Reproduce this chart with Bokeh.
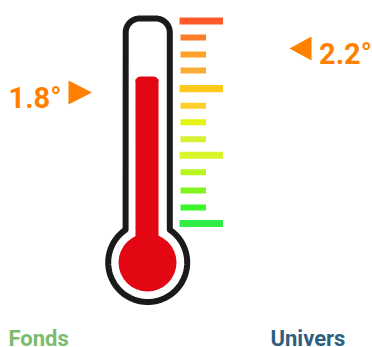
import numpy as np
from bokeh.plotting import figure
from bokeh.models import Range1d
from bokeh.core.properties import value
from bokeh.embed import file_html
from bokeh.resources import INLINE

# Scale ticks, in degrees
tick_degrees = [2.45, 2.30, 2.145, 2.00, 1.835, 1.68, 1.53, 1.375, 1.23, 1.075, 0.91, 0.755, 0.61]
tick_long = [1, 0, 0, 0, 1, 0, 0, 0, 1, 0, 0, 0, 1]
tick_colors = ["#FF5A28", "#FF7C2C", "#FFA028", "#F9AC35", "#FFC81E", "#FFCE28", "#E4F414",
               "#D6F032", "#D9F52C", "#B6F520", "#80F41E", "#3CF52A", "#30EE48"]
fill_level = 1.945
labels = ["1.8°", "2.2°"]
label_values = [1.8, 2.2]
names = ["Fonds", "Univers"]
name_colors = ["#7CBB6E", "#2F5F80"]
ORANGE = "#FF8000"
FONT = value("Roboto")

p = figure(width=372, height=347, output_backend="svg", toolbar_location=None,
           x_range=Range1d(0, 372), y_range=Range1d(347, 0),
           min_border=0, outline_line_color=None, x_axis_location=None, y_axis_location=None)
p.grid.visible = False
p.background_fill_color = "white"
p.border_fill_color = "white"
p.extra_y_ranges = {"deg": Range1d(-0.518, 2.636)}

# Scale bars
lefts = [179 if l else 180 for l in tick_long]
rights = [222.5 if l else 205.5 for l in tick_long]
heights = [7 / 110 if l else 6 / 110 for l in tick_long]
tops = [t + h / 2 for t, h in zip(tick_degrees, heights)]
bottoms = [t - h / 2 for t, h in zip(tick_degrees, heights)]
p.quad(left=lefts, right=rights, top=tops, bottom=bottoms, fill_color=tick_colors,
       line_color=None, y_range_name="deg")

# Thermometer outline (drawn shape)
cx, left_x, right_x = 147.2, 125.2, 169.3
top_y, r, by, br = 18, 14, 262, 39.5
a0 = np.arcsin((right_x - cx) / br)
t_bulb = np.linspace(a0, 2 * np.pi - a0, 80)
bx = cx + br * np.sin(t_bulb)
byy = by - br * np.cos(t_bulb)
t_l = np.linspace(np.pi, 1.5 * np.pi, 14)
t_r = np.linspace(1.5 * np.pi, 2 * np.pi, 14)
ox = np.concatenate([[right_x], bx, [left_x], left_x + r + r * np.cos(t_l), right_x - r + r * np.cos(t_r), [right_x]])
oy = np.concatenate([[top_y + r], byy, [top_y + r], top_y + r + r * np.sin(t_l), top_y + r + r * np.sin(t_r), [top_y + r]])
p.patch(ox, oy, fill_color="white", line_color="#1A1A1A", line_width=6, line_join="round")

# Mercury
RED = "#E30613"
p.circle(x=[147], y=[262], radius=29, fill_color=RED, line_color=None)
p.quad(left=[135], right=[158], top=[fill_level - 3 / 110], bottom=[0.4], fill_color=RED,
       line_color=None, y_range_name="deg")
th = np.linspace(0, np.pi / 2, 8)
cap_x = np.concatenate([135 + 5 - 5 * np.cos(th), 158 - 5 + 5 * np.sin(th)])
cap_y = np.concatenate([fill_level - 5 / 110 + 5 / 110 * np.sin(th), fill_level - 5 / 110 + 5 / 110 * np.cos(th)])
p.patch(cap_x, cap_y, fill_color=RED, line_color=None, y_range_name="deg")

# Markers
h = 12 / 110
v = label_values[0]
p.patch([68, 91.5, 68], [v + h, v, v - h], fill_color=ORANGE, line_color=None, y_range_name="deg")
v = label_values[1]
p.patch([311, 289, 311], [v + h, v, v - h], fill_color=ORANGE, line_color=None, y_range_name="deg")

p.text(x=[8], y=[97], text=[labels[0]], text_font=FONT, text_font_style="bold", text_font_size="29px",
       text_color=ORANGE, text_baseline="middle", text_align="left")
p.text(x=[318.5], y=[53], text=[labels[1]], text_font=FONT, text_font_style="bold", text_font_size="29px",
       text_color=ORANGE, text_baseline="middle", text_align="left")

p.text(x=[8], y=[337.5], text=[names[0]], text_font=FONT, text_font_style="bold", text_font_size="22px",
       text_color=name_colors[0], text_baseline="middle", text_align="left")
p.text(x=[270], y=[337.5], text=[names[1]], text_font=FONT, text_font_style="bold", text_font_size="22px",
       text_color=name_colors[1], text_baseline="middle", text_align="left")

open("out.html", "w").write(file_html(p, INLINE))
